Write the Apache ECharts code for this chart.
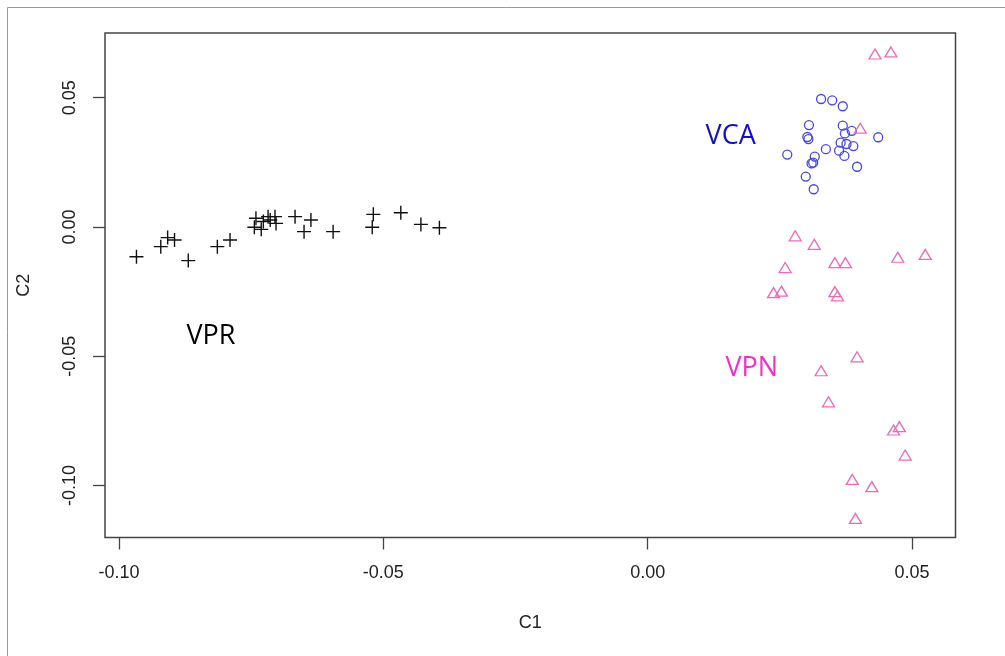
<!DOCTYPE html>
<html>
<head>
<meta charset="utf-8">
<script src="https://cdn.jsdelivr.net/npm/echarts@6/dist/echarts.min.js"></script>
<style>
  html, body { margin: 0; padding: 0; background: #fff; }
  #chart { width: 1005px; height: 656px; }
</style>
</head>
<body>
<div id="chart"></div>
<script>
// Group VPR (first and second coordinates)
const vprC1 = [-0.0967, -0.0921, -0.0908, -0.0895, -0.0869, -0.0814, -0.0790, -0.0744,
  -0.0741, -0.0731, -0.0727, -0.0718, -0.0714, -0.0705, -0.0703, -0.0667, -0.0650,
  -0.0637, -0.0595, -0.0521, -0.0519, -0.0467, -0.0429, -0.0394];
const vprC2 = [-0.0115, -0.0076, -0.0041, -0.0050, -0.0130, -0.0076, -0.0050, -0.0001,
  0.0034, -0.0009, 0.0021, 0.0040, 0.0027, 0.0040, 0.0014, 0.0040, -0.0018,
  0.0027, -0.0018, -0.0001, 0.0049, 0.0055, 0.0010, -0.0003];

// Group VCA
const vcaC1 = [0.0328, 0.0349, 0.0369, 0.0305, 0.0369, 0.0386, 0.0373, 0.0436, 0.0302,
  0.0304, 0.0365, 0.0376, 0.0389, 0.0337, 0.0362, 0.0264, 0.0316, 0.0372, 0.0310,
  0.0313, 0.0396, 0.0299, 0.0314];
const vcaC2 = [0.0495, 0.0490, 0.0467, 0.0394, 0.0392, 0.0372, 0.0362, 0.0347, 0.0348,
  0.0340, 0.0326, 0.0321, 0.0313, 0.0301, 0.0295, 0.0280, 0.0272, 0.0275, 0.0246,
  0.0249, 0.0233, 0.0195, 0.0146];

// Group VPN
const vpnC1 = [0.0430, 0.0460, 0.0402, 0.0279, 0.0315, 0.0354, 0.0374, 0.0260, 0.0473,
  0.0525, 0.0238, 0.0253, 0.0354, 0.0359, 0.0396, 0.0328, 0.0342, 0.0465, 0.0476,
  0.0487, 0.0387, 0.0424, 0.0393];
const vpnC2 = [0.0669, 0.0677, 0.0382, -0.0034, -0.0067, -0.0138, -0.0138, -0.0157, -0.0117,
  -0.0106, -0.0254, -0.0248, -0.0250, -0.0266, -0.0502, -0.0556, -0.0676, -0.0785, -0.0772,
  -0.0882, -0.0976, -0.1004, -0.1127];

// Group name annotations
const groupNames = ['VPR', 'VCA', 'VPN'];
const labelC1 = [-0.0826, 0.0157, 0.0197];
const labelC2 = [-0.0422, 0.0350, -0.0545];
const groupColors = ['#000000', '#1010c8', '#f030c8'];

// Axis ticks
const xTicks = [-0.10, -0.05, 0.00, 0.05];
const yTicks = [-0.10, -0.05, 0.00, 0.05];

const zip = (a, b) => a.map((v, i) => [v, b[i]]);
const plusPath = 'path://M0,5L10,5M5,0L5,10';
const axisFont = { fontFamily: 'Liberation Sans, Arial, sans-serif', fontSize: 18, color: '#222' };

const chart = echarts.init(document.getElementById('chart'), null, { renderer: 'canvas' });
chart.setOption({
  animation: false,
  backgroundColor: '#fff',
  graphic: [{
    type: 'rect',
    shape: { x: 7.5, y: 7.5, width: 1100, height: 800 },
    style: { fill: 'none', stroke: '#9a9a9a', lineWidth: 1 },
    silent: true
  }],
  grid: {
    left: 105, top: 33, right: 49.5, bottom: 118.5,
    show: true, borderColor: '#444', borderWidth: 1.5, backgroundColor: 'transparent'
  },
  xAxis: {
    type: 'value',
    min: -0.10265, max: 0.05822,
    name: 'C1', nameLocation: 'middle', nameGap: 77,
    nameTextStyle: axisFont,
    splitLine: { show: false },
    axisLine: { show: false, onZero: false },
    axisTick: { show: true, length: 12, inside: false, customValues: xTicks,
      lineStyle: { color: '#444', width: 1.3 } },
    axisLabel: { show: true, margin: 27, customValues: xTicks,
      formatter: v => v.toFixed(2), ...axisFont }
  },
  yAxis: {
    type: 'value',
    min: -0.12007, max: 0.07502,
    name: 'C2', nameLocation: 'middle', nameGap: 72, nameRotate: 90,
    nameTextStyle: axisFont,
    splitLine: { show: false },
    axisLine: { show: false, onZero: false },
    axisTick: { show: true, length: 12, inside: false, customValues: yTicks,
      lineStyle: { color: '#444', width: 1.3 } },
    axisLabel: { show: true, margin: 26, rotate: 90, customValues: yTicks,
      formatter: v => v.toFixed(2), ...axisFont }
  },
  series: [
    {
      name: 'VPR', type: 'scatter', data: zip(vprC1, vprC2),
      symbol: plusPath, symbolSize: 14,
      itemStyle: { opacity: 1, color: 'rgba(0,0,0,0)', borderColor: '#111', borderWidth: 1.4 }
    },
    {
      name: 'VCA', type: 'scatter', data: zip(vcaC1, vcaC2),
      symbol: 'circle', symbolSize: 9,
      itemStyle: { opacity: 1, color: 'rgba(0,0,0,0)', borderColor: '#4848e0', borderWidth: 1.3 }
    },
    {
      name: 'VPN', type: 'scatter', data: zip(vpnC1, vpnC2),
      symbol: 'triangle', symbolSize: [12, 10],
      itemStyle: { opacity: 1, color: 'rgba(0,0,0,0)', borderColor: '#ea6cb8', borderWidth: 1.3 }
    },
    {
      name: 'groups', type: 'scatter', silent: true,
      symbolSize: 0,
      itemStyle: { opacity: 1 },
      data: groupNames.map((n, i) => ({
        name: n, value: [labelC1[i], labelC2[i]],
        label: { color: groupColors[i] }
      })),
      label: {
        show: true, position: 'inside', formatter: p => p.name,
        fontFamily: 'Open Sans, sans-serif', fontSize: 27
      }
    }
  ]
});
</script>
</body>
</html>
